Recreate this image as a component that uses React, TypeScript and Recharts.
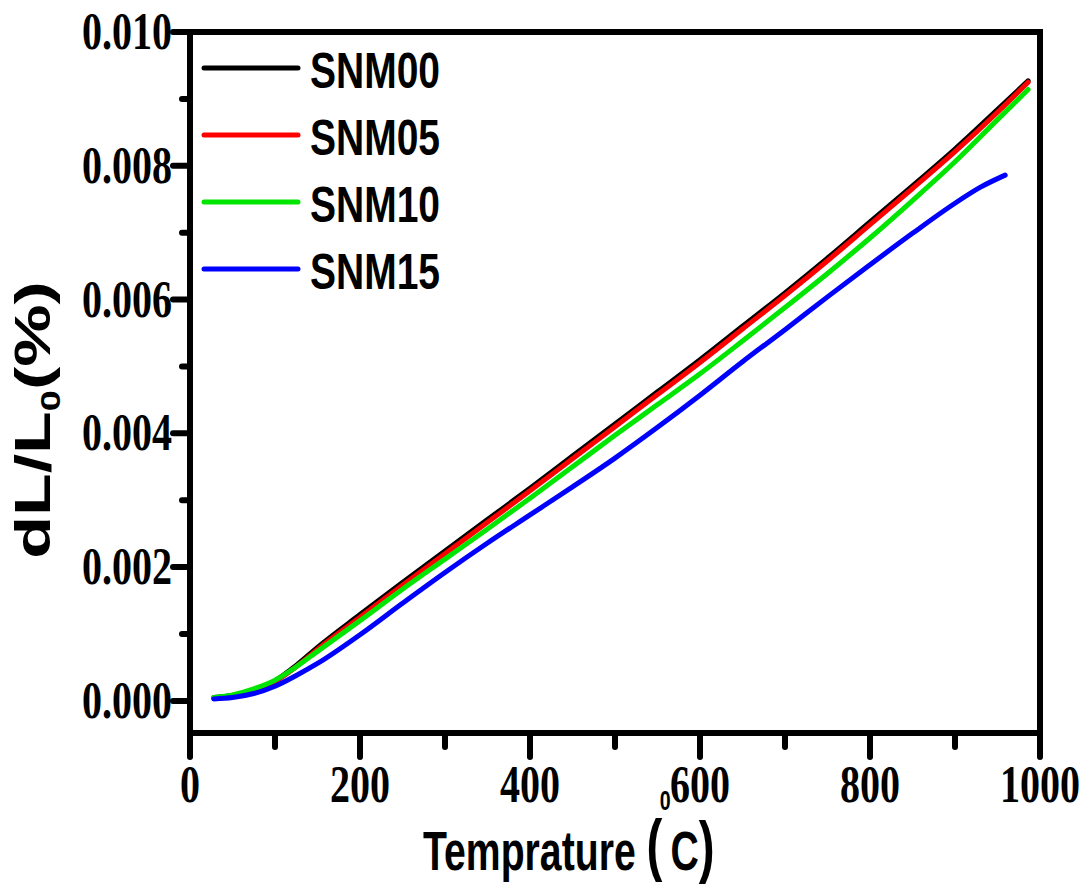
import React from 'react';
import { LineChart, Line, XAxis, YAxis, ReferenceLine, Legend } from 'recharts';

const temps = [28, 50, 75, 100, 125, 150, 200, 250, 300, 350, 400, 450, 500, 550, 600, 650, 700, 750, 800, 850, 900, 950, 986];
const snm00 = [0.00005, 0.00008, 0.00016, 0.0003, 0.00053, 0.0008, 0.00129, 0.00177, 0.00224, 0.00271, 0.00318, 0.00366, 0.00414, 0.00462, 0.0051, 0.0056, 0.0061, 0.00662, 0.00716, 0.0077, 0.00825, 0.00884, 0.00927];
const snm05 = [0.00004, 0.00007, 0.00015, 0.00029, 0.00051, 0.00077, 0.00125, 0.00173, 0.0022, 0.00267, 0.00314, 0.00362, 0.0041, 0.00458, 0.00506, 0.00556, 0.00606, 0.00658, 0.00712, 0.00766, 0.00821, 0.0088, 0.00925];
const snm10 = [0.00005, 0.00009, 0.00018, 0.00031, 0.00051, 0.00074, 0.0012, 0.00167, 0.00212, 0.00257, 0.00303, 0.0035, 0.00397, 0.00443, 0.00489, 0.00538, 0.00588, 0.00639, 0.00692, 0.00748, 0.00806, 0.00869, 0.00914];
const blueTemps = [28, 50, 75, 100, 125, 150, 200, 250, 300, 350, 400, 450, 500, 550, 600, 650, 700, 750, 800, 850, 900, 930, 959];
const snm15 = [0.00003, 0.00005, 0.00011, 0.00022, 0.00038, 0.00056, 0.00099, 0.00146, 0.00192, 0.00236, 0.00278, 0.0032, 0.00363, 0.00409, 0.00457, 0.00507, 0.00555, 0.00604, 0.00652, 0.00699, 0.00744, 0.00768, 0.00786];

const seriesNames = ['SNM00', 'SNM05', 'SNM10', 'SNM15'];
const seriesColors = ['#000000', '#ff0000', '#00e600', '#0000ff'];

const xTicks = [0, 100, 200, 300, 400, 500, 600, 700, 800, 900, 1000];
const yTicks = [0, 0.001, 0.002, 0.003, 0.004, 0.005, 0.006, 0.007, 0.008, 0.009, 0.01];

const toRows = (xs: number[], ys: number[]) => xs.map((t, i) => ({ t, v: ys[i] }));
const seriesData = [toRows(temps, snm00), toRows(temps, snm05), toRows(temps, snm10), toRows(blueTemps, snm15)];

const SERIF = '"Liberation Serif", "Times New Roman", serif';
const SANS = '"Liberation Sans", Arial, sans-serif';

const XTick = (props: any) => {
  const { x, y, payload } = props;
  const v = payload.value;
  const major = Math.round(v) % 200 === 0;
  return (
    <g>
      <line x1={x} y1={y} x2={x} y2={y + (major ? 24 : 14)} stroke="#000" strokeWidth={6} strokeLinecap="round" />
      {major && (
        <g transform={`translate(${x},${y + 69}) scale(0.77,1)`}>
          <text x={0} y={0} textAnchor="middle" fontFamily={SERIF} fontWeight="bold" fontSize={52} fill="#000">
            {v}
          </text>
        </g>
      )}
    </g>
  );
};

const YTick = (props: any) => {
  const { x, y, payload } = props;
  const v = payload.value;
  const major = Math.round(v * 1000) % 2 === 0;
  const len = major ? 17 : 8;
  return (
    <g>
      <line x1={x} y1={y} x2={x - len} y2={y} stroke="#000" strokeWidth={6} strokeLinecap="round" />
      {major && (
        <g transform={`translate(${x - 18},${y + 17}) scale(0.77,1)`}>
          <text x={0} y={0} textAnchor="end" fontFamily={SERIF} fontWeight="bold" fontSize={52} fill="#000">
            {v.toFixed(3)}
          </text>
        </g>
      )}
    </g>
  );
};

const LegendContent = (props: any) => {
  const payload = props.payload || [];
  return (
    <svg width={320} height={280} style={{ overflow: 'visible' }}>
      {payload.map((p: any, i: number) => {
        const cy = 36 + i * 67;
        return (
          <g key={i}>
            <line x1={14} y1={cy} x2={108} y2={cy} stroke={p.color} strokeWidth={5} strokeLinecap="round" />
            <g transform={`translate(120,${cy + 20}) scale(0.78,1)`}>
              <text x={0} y={0} fontFamily={SANS} fontWeight="bold" fontSize={50} fill="#000">
                {p.value}
              </text>
            </g>
          </g>
        );
      })}
    </svg>
  );
};

export default function App() {
  return (
    <div style={{ position: 'absolute', left: 0, top: 0, background: '#fff' }}>
      <LineChart width={1084} height={884} margin={{ top: 32, right: 44, bottom: 150, left: 189 }}>
        <XAxis
          dataKey="t"
          type="number"
          domain={[0, 1000]}
          ticks={xTicks}
          interval={0}
          height={1}
          tickSize={0}
          tickMargin={0}
          tickLine={false}
          tick={<XTick />}
          axisLine={{ stroke: '#000', strokeWidth: 6, strokeLinecap: 'square' }}
          allowDataOverflow
        />
        <YAxis
          type="number"
          domain={[-0.00048, 0.01]}
          ticks={yTicks}
          interval={0}
          width={1}
          tickSize={0}
          tickMargin={0}
          tickLine={false}
          tick={<YTick />}
          axisLine={{ stroke: '#000', strokeWidth: 6, strokeLinecap: 'square' }}
          allowDataOverflow
        />
        <ReferenceLine y={0.01} stroke="#000" strokeWidth={6} strokeLinecap="square" ifOverflow="visible" />
        <ReferenceLine x={1000} stroke="#000" strokeWidth={6} strokeLinecap="square" ifOverflow="visible" />
        {seriesNames.map((name, i) => (
          <Line
            key={name}
            name={name}
            data={seriesData[i]}
            dataKey="v"
            type="monotone"
            stroke={seriesColors[i]}
            strokeWidth={5}
            strokeLinecap="round"
            dot={false}
            activeDot={false}
            isAnimationActive={false}
          />
        ))}
        <Legend
          layout="horizontal"
          verticalAlign="middle"
          align="center"
          content={<LegendContent />}
          wrapperStyle={{ left: 190, top: 32, width: 320, height: 280 }}
        />
      </LineChart>
      <svg width={1084} height={884} style={{ position: 'absolute', left: 0, top: 0, pointerEvents: 'none' }}>
        <g transform="translate(423,870) scale(0.7,1)">
          <text x={0} y={0} fontFamily={SANS} fontWeight="bold" fontSize={56} fill="#000">
            Temprature <tspan fontSize={68} dy={-2}>(</tspan>
            <tspan fontSize={28} dx={-4} dy={-58}>0</tspan>
            <tspan fontSize={56} dy={60}>C</tspan>
            <tspan fontSize={68} dy={0}>)</tspan>
          </text>
        </g>
        <g transform="translate(50,420) scale(0.71,1) rotate(-90)">
          <text x={0} y={0} textAnchor="middle" fontFamily={SANS} fontWeight="bold" fontSize={70} fill="#000">
            dL/L<tspan fontSize={38} dy={14}>0</tspan>
            <tspan dy={-14}>(%)</tspan>
          </text>
        </g>
      </svg>
    </div>
  );
}
